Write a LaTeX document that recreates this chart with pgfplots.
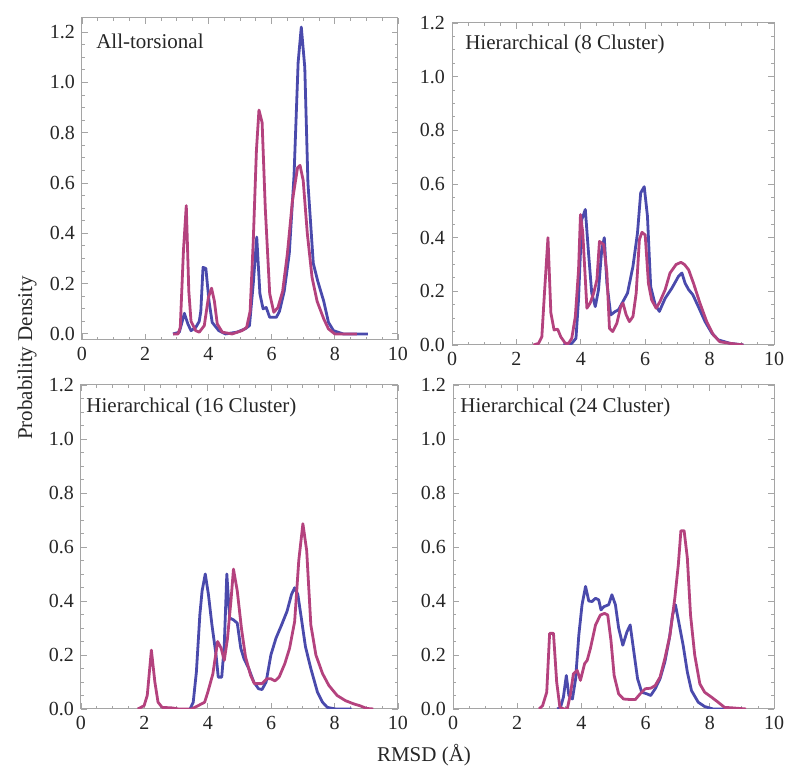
\documentclass[border=0pt]{standalone}
\usepackage{fontspec}
\setmainfont{Liberation Serif}
\usepackage{pgfplots}
\pgfplotsset{compat=1.18}

\definecolor{cblue}{RGB}{74,74,172}
\definecolor{cmag}{RGB}{180,66,126}
\definecolor{framegray}{RGB}{165,165,165}

\pgfplotsset{
  panel/.style={
    scale only axis, anchor=south west,
    xmin=0, xmax=10, ymin=0, ymax=1.2,
    xtick={0,2,4,6,8,10}, ytick={0,0.2,0.4,0.6,0.8,1,1.2},
    minor x tick num=3, minor y tick num=3,
    tick align=inside, tick pos=both,
    major tick length=3pt, minor tick length=1.7pt,
    axis line style={framegray, line width=0.5pt},
    tick style={framegray, line width=0.45pt},
    /pgf/number format/assume math mode=true,
    ticklabel style={font=\fontsize{10}{11}\selectfont, text=black!85},
    yticklabel style={/pgf/number format/fixed, /pgf/number format/fixed zerofill, /pgf/number format/precision=1},
    xticklabel style={/pgf/number format/fixed, /pgf/number format/precision=0},
    every axis plot/.append style={line width=1.4pt, line join=round, mark=none},
  },
}
\tikzset{ttl/.style={anchor=base west, inner sep=0pt, font=\fontsize{10.5}{12}\selectfont, text=black!85}}

\begin{document}
\begin{tikzpicture}
\useasboundingbox (0,0) rectangle (400pt,387pt);

% top left: all-torsional
\begin{axis}[panel, at={(41pt,217pt)}, width=158pt, height=161pt, ymin=-0.024, ymax=1.256]
\addplot[cblue] coordinates {
(2.88,0) (3.08,0.007) (3.24,0.082) (3.35,0.04) (3.45,0.013) (3.6,0.026) (3.71,0.05)
(3.76,0.09) (3.83,0.265) (3.92,0.26) (4.02,0.13) (4.12,0.046) (4.33,0.013) (4.54,0)
(4.9,0.007) (5.16,0.02) (5.3,0.033) (5.42,0.2) (5.53,0.385) (5.63,0.16) (5.73,0.1)
(5.83,0.105) (5.94,0.066) (6.15,0.066) (6.25,0.09) (6.4,0.17) (6.56,0.32) (6.71,0.63)
(6.84,1.08) (6.94,1.22) (7.05,1.06) (7.15,0.6) (7.32,0.28) (7.46,0.21) (7.65,0.13)
(7.8,0.046) (7.96,0.013) (8.27,0) (9.05,0)
};
\addplot[cmag] coordinates {
(2.88,0) (3.04,0) (3.11,0.026) (3.21,0.33) (3.3,0.51) (3.38,0.17) (3.45,0.05)
(3.6,0.013) (3.71,0.007) (3.87,0.033) (4.0,0.145) (4.1,0.182) (4.19,0.13) (4.28,0.04)
(4.44,0.007) (4.75,0) (5.06,0.013) (5.21,0.026) (5.32,0.09) (5.42,0.37) (5.52,0.73)
(5.6,0.89) (5.7,0.84) (5.8,0.5) (5.94,0.16) (6.07,0.086) (6.2,0.105) (6.35,0.17)
(6.5,0.32) (6.66,0.53) (6.82,0.66) (6.9,0.67) (7.0,0.61) (7.13,0.4) (7.28,0.225)
(7.44,0.13) (7.65,0.06) (7.8,0.02) (8.0,0) (8.7,0)
};
\node[ttl] at (rel axis cs:0.044,0.904) {All-torsional};
\end{axis}

% top right: 8 cluster
\begin{axis}[panel, at={(226pt,214.5pt)}, width=161pt, height=161pt]
\addplot[cblue] coordinates {
(3.46,0) (3.72,0.006) (3.85,0.025) (3.93,0.17) (4.03,0.467) (4.14,0.505) (4.24,0.343)
(4.34,0.193) (4.45,0.143) (4.55,0.206) (4.65,0.355) (4.73,0.4) (4.81,0.23) (4.93,0.112)
(5.07,0.125) (5.17,0.131) (5.31,0.162) (5.45,0.193) (5.62,0.293) (5.76,0.417) (5.86,0.567)
(5.97,0.59) (6.07,0.48) (6.17,0.218) (6.31,0.15) (6.44,0.125) (6.62,0.174) (6.83,0.212)
(7.03,0.255) (7.14,0.268) (7.24,0.23) (7.35,0.206) (7.48,0.187) (7.65,0.143) (7.86,0.087)
(8.07,0.044) (8.27,0.019) (8.64,0.006) (9.05,0)
};
\addplot[cmag] coordinates {
(2.53,0) (2.69,0.006) (2.79,0.03) (2.87,0.19) (2.98,0.4) (3.07,0.12) (3.17,0.056)
(3.28,0.059) (3.38,0.03) (3.52,0.006) (3.62,0.006) (3.72,0.025) (3.83,0.106) (3.93,0.28)
(3.99,0.486) (4.06,0.42) (4.19,0.137) (4.29,0.156) (4.4,0.193) (4.5,0.243) (4.58,0.386)
(4.71,0.374) (4.81,0.268) (4.89,0.062) (4.99,0.05) (5.12,0.081) (5.24,0.143) (5.31,0.156)
(5.41,0.112) (5.51,0.087) (5.62,0.106) (5.72,0.193) (5.82,0.393) (5.9,0.42) (6.0,0.41)
(6.1,0.23) (6.2,0.168) (6.34,0.137) (6.46,0.162) (6.62,0.206) (6.77,0.268) (6.96,0.3)
(7.11,0.308) (7.22,0.3) (7.35,0.28) (7.5,0.23) (7.7,0.156) (7.91,0.087) (8.12,0.037)
(8.32,0.012) (8.64,0.006) (9.05,0)
};
\node[ttl] at (rel axis cs:0.04,0.919) {Hierarchical (8 Cluster)};
\end{axis}

% bottom left: 16 cluster
\begin{axis}[panel, at={(40.5pt,32.5pt)}, width=158.5pt, height=162pt]
\addplot[cblue] coordinates {
(3.44,0) (3.54,0.025) (3.64,0.137) (3.75,0.35) (3.82,0.437) (3.92,0.5) (4.02,0.424)
(4.13,0.312) (4.26,0.2) (4.33,0.118) (4.44,0.118) (4.52,0.237) (4.6,0.5) (4.69,0.337)
(4.81,0.33) (4.93,0.318) (5.04,0.225) (5.14,0.187) (5.29,0.15) (5.45,0.1) (5.6,0.075)
(5.71,0.072) (5.84,0.1) (5.99,0.2) (6.15,0.262) (6.33,0.312) (6.5,0.362) (6.64,0.424)
(6.74,0.449) (6.84,0.424) (6.95,0.337) (7.08,0.231) (7.25,0.15) (7.46,0.062) (7.62,0.025)
(7.77,0.006) (8.03,0) (8.54,0)
};
\addplot[cmag] coordinates {
(1.79,0) (1.99,0.012) (2.09,0.05) (2.22,0.218) (2.33,0.1) (2.43,0.025) (2.56,0.006)
(2.87,0.004) (3.08,0) (3.49,0) (3.69,0.012) (3.9,0.025) (4.0,0.062) (4.16,0.13)
(4.31,0.25) (4.42,0.225) (4.52,0.18) (4.62,0.26) (4.73,0.4) (4.81,0.518) (4.93,0.437)
(5.06,0.3) (5.19,0.193) (5.35,0.125) (5.47,0.094) (5.71,0.094) (5.86,0.112) (5.99,0.112)
(6.12,0.104) (6.25,0.118) (6.43,0.168) (6.58,0.225) (6.74,0.324) (6.87,0.55) (7.0,0.686)
(7.12,0.586) (7.25,0.312) (7.41,0.2) (7.62,0.131) (7.82,0.087) (8.08,0.05) (8.34,0.031)
(8.6,0.019) (8.8,0.012) (9.01,0.002) (9.22,0)
};
\node[ttl] at (rel axis cs:0.016,0.914) {Hierarchical (16 Cluster)};
\end{axis}

% bottom right: 24 cluster
\begin{axis}[panel, at={(226.5pt,32.5pt)}, width=160.5pt, height=162pt]
\addplot[cblue] coordinates {
(3.25,0) (3.35,0.006) (3.44,0.044) (3.53,0.124) (3.61,0.05) (3.72,0.037) (3.82,0.112)
(3.92,0.274) (4.02,0.386) (4.13,0.454) (4.23,0.4) (4.33,0.398) (4.44,0.41) (4.54,0.404)
(4.61,0.367) (4.7,0.379) (4.85,0.386) (4.95,0.423) (5.06,0.386) (5.16,0.3) (5.29,0.236)
(5.42,0.286) (5.52,0.311) (5.62,0.224) (5.75,0.112) (5.88,0.062) (6.04,0.056) (6.16,0.05)
(6.3,0.075) (6.45,0.112) (6.6,0.174) (6.74,0.261) (6.84,0.348) (6.93,0.386) (7.05,0.311)
(7.17,0.236) (7.3,0.137) (7.43,0.068) (7.64,0.025) (7.84,0.009) (8.1,0) (8.57,0)
};
\addplot[cmag] coordinates {
(2.68,0) (2.79,0.012) (2.92,0.062) (3.01,0.28) (3.13,0.28) (3.23,0.1) (3.33,0.006)
(3.46,0) (3.56,0) (3.66,0.056) (3.75,0.13) (3.87,0.143) (3.97,0.106) (4.1,0.168)
(4.18,0.18) (4.28,0.224) (4.44,0.311) (4.59,0.348) (4.72,0.354) (4.82,0.348) (4.92,0.255)
(5.02,0.124) (5.16,0.056) (5.31,0.037) (5.52,0.035) (5.68,0.035) (5.83,0.056) (5.99,0.075)
(6.16,0.077) (6.3,0.087) (6.45,0.118) (6.6,0.187) (6.76,0.274) (6.91,0.41) (7.02,0.535)
(7.1,0.66) (7.2,0.66) (7.3,0.56) (7.4,0.348) (7.53,0.2) (7.69,0.093) (7.84,0.062)
(8.05,0.044) (8.26,0.025) (8.46,0.006) (8.72,0.004) (9.13,0)
};
\node[ttl] at (rel axis cs:0.022,0.914) {Hierarchical (24 Cluster)};
\end{axis}

\node[rotate=90, font=\fontsize{10.5}{12}\selectfont, text=black!85] at (13.5pt,208pt) {Probability Density};
\node[font=\fontsize{10.5}{12}\selectfont, text=black!85] at (212pt,9.5pt) {RMSD (Å)};
\end{tikzpicture}
\end{document}
